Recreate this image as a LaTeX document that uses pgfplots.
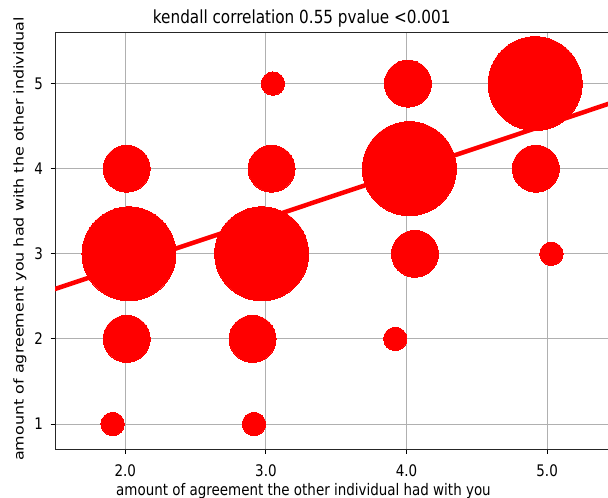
\documentclass[border=0pt]{standalone}
\usepackage{pgfplots}
\pgfplotsset{compat=1.18}
\usepackage{fontspec}
\setmainfont{DejaVu Sans}
\definecolor{gridgray}{HTML}{B0B0B0}
\newcommand{\vs}[1]{\scalebox{1}[1.185]{#1}}
\newcommand{\hs}[1]{\scalebox{1.185}[1]{#1}}
\begin{document}
\begin{tikzpicture}
\begin{axis}[
  at={(55bp,49bp)}, anchor=south west,
  scale only axis, width=576.5bp, height=416bp,
  xmin=1.5, xmax=5.6, ymin=0.706, ymax=5.595,
  xtick={2,3,4,5}, xticklabels={\vs{2.0},\vs{3.0},\vs{4.0},\vs{5.0}},
  ytick={1,2,3,4,5}, yticklabels={\vs{1},\vs{2},\vs{3},\vs{4},\vs{5}},
  grid=major, grid style={draw=gridgray, line width=0.9bp},
  tick align=outside, major tick length=4.5bp,
  tick pos=left,
  tick style={black, line width=0.9bp},
  axis line style={line width=1bp, black!85},
  /pgf/number format/assume math mode=true,
  ticklabel style={font=\fontsize{13.5}{16}\selectfont},
  xticklabel style={anchor=base, yshift=-22.7bp},
  yticklabel style={anchor=east, xshift=-4bp},
  label style={font=\fontsize{13.5}{16}\selectfont},
  title style={font=\fontsize{15.3}{18}\selectfont, at={(axis description cs:0.428,1.0096)}, anchor=base},
  xlabel style={at={(axis description cs:0.431,-0.1106)}, anchor=base},
  ylabel style={at={(axis description cs:-0.0546,0.505)}, anchor=base, rotate=0},
  title={\vs{kendall correlation 0.55 pvalue <0.001}},
  xlabel={\vs{amount of agreement the other individual had with you}},
  ylabel={\hs{amount of agreement you had with the other individual}},
]
\addplot[red, only marks, mark=*, mark size=11.7bp, mark options={draw=red, fill=red, line width=0pt}]
  coordinates {(1.91,1) (2.915,1) (3.92,2) (5.03,3) (3.05,5)};
\addplot[red, only marks, mark=*, mark size=23.5bp, mark options={draw=red, fill=red, line width=0pt}]
  coordinates {(2.01,2) (2.905,2) (4.06,3) (2.01,4) (3.04,4) (4.92,4) (4.01,5)};
\addplot[red, only marks, mark=*, mark size=47bp, mark options={draw=red, fill=red, line width=0pt}]
  coordinates {(2.026,3) (2.97,3) (4.02,4) (4.915,5)};
\addplot[red, line width=4.5bp, no marks] coordinates {(1.4,2.531) (5.7,4.908)};
\end{axis}
\pgfresetboundingbox
\path[use as bounding box] (0,0) rectangle (608bp,498bp);
\end{tikzpicture}
\end{document}
